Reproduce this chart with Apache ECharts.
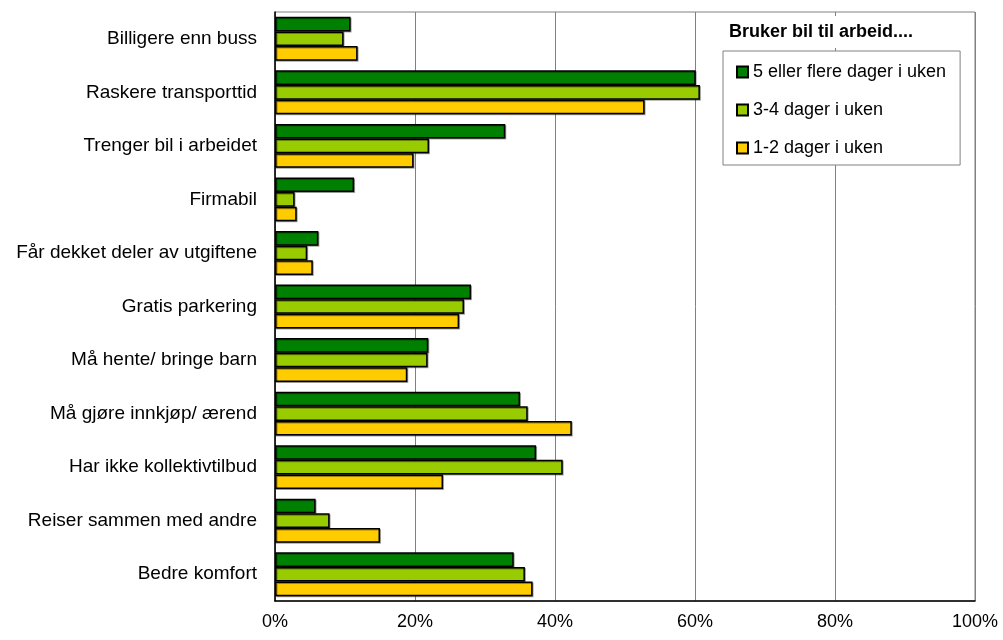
<!DOCTYPE html>
<html>
<head>
<meta charset="utf-8">
<script src="https://cdn.jsdelivr.net/npm/echarts@6/dist/echarts.min.js"></script>
<style>
html,body{margin:0;padding:0;background:#fff;}
#chart{width:1003px;height:640px;}
</style>
</head>
<body>
<div id="chart"></div>
<script>
const categories = [
  'Billigere enn buss',
  'Raskere transporttid',
  'Trenger bil i arbeidet',
  'Firmabil',
  'Får dekket deler av utgiftene',
  'Gratis parkering',
  'Må hente/ bringe barn',
  'Må gjøre innkjøp/ ærend',
  'Har ikke kollektivtilbud',
  'Reiser sammen med andre',
  'Bedre komfort'
];
const seriesNames = ['5 eller flere dager i uken', '3-4 dager i uken', '1-2 dager i uken'];
const days5plus = [10.8, 60.1, 32.9, 11.3, 6.2, 28.0, 21.9, 35.0, 37.3, 5.8, 34.1];
const days3to4  = [9.8, 60.7, 22.0, 2.8, 4.6, 27.0, 21.8, 36.1, 41.1, 7.8, 35.7];
const days1to2  = [11.8, 52.8, 19.8, 3.1, 5.4, 26.3, 18.9, 42.4, 24.0, 15.0, 36.8];
const xTicks = [0, 20, 40, 60, 80, 100];
const legendTitle = 'Bruker bil til arbeid....';

const colors = ['#008000', '#99CC00', '#FFCC00'];
const FONT = '"Liberation Sans", Arial, sans-serif';

const chart = echarts.init(document.getElementById('chart'), null, {renderer: 'canvas'});
const values = [days5plus, days3to4, days1to2];

const option = {
  animation: false,
  backgroundColor: '#ffffff',
  textStyle: {fontFamily: FONT},
  title: {
    text: legendTitle,
    left: 706,
    top: 16,
    padding: [7, 58, 7, 23],
    backgroundColor: '#ffffff',
    textStyle: {fontFamily: FONT, fontSize: 18, fontWeight: 'bold', color: '#000'}
  },
  legend: {
    data: seriesNames,
    orient: 'vertical',
    left: 723,
    top: 51,
    padding: [10, 14, 6, 13],
    itemGap: 16,
    itemWidth: 11,
    itemHeight: 11,
    icon: 'rect',
    backgroundColor: '#ffffff',
    borderColor: '#808080',
    borderWidth: 1,
    textStyle: {fontFamily: FONT, fontSize: 18, color: '#000', lineHeight: 22}
  },
  grid: {
    left: 275, right: 28, top: 12, bottom: 39,
    show: true,
    borderColor: '#808080',
    borderWidth: 1,
    containLabel: false,
    outerBoundsMode: 'none'
  },
  xAxis: {
    type: 'value',
    min: xTicks[0],
    max: xTicks[xTicks.length - 1],
    interval: xTicks[1] - xTicks[0],
    axisLine: {show: true, lineStyle: {color: '#000', width: 1.5}},
    axisTick: {show: false},
    splitLine: {show: true, lineStyle: {color: '#808080', width: 1}},
    axisLabel: {
      formatter: '{value}%',
      fontFamily: FONT, fontSize: 18, color: '#000', margin: 12
    }
  },
  yAxis: {
    type: 'category',
    data: categories,
    inverse: true,
    axisLine: {show: true, lineStyle: {color: '#000', width: 1.5}},
    axisTick: {show: false},
    axisLabel: {fontFamily: FONT, fontSize: 19, color: '#000', margin: 18}
  },
  series: seriesNames.map((name, i) => ({
    name: name,
    type: 'bar',
    data: values[i],
    barGap: '0%',
    barCategoryGap: '18%',
    itemStyle: {
      color: colors[i],
      borderColor: '#000',
      borderWidth: 1.5,
      shadowColor: 'rgba(0,0,0,0.35)',
      shadowOffsetX: 1,
      shadowOffsetY: 1,
      shadowBlur: 0
    }
  }))
};
chart.setOption(option);
</script>
</body>
</html>
